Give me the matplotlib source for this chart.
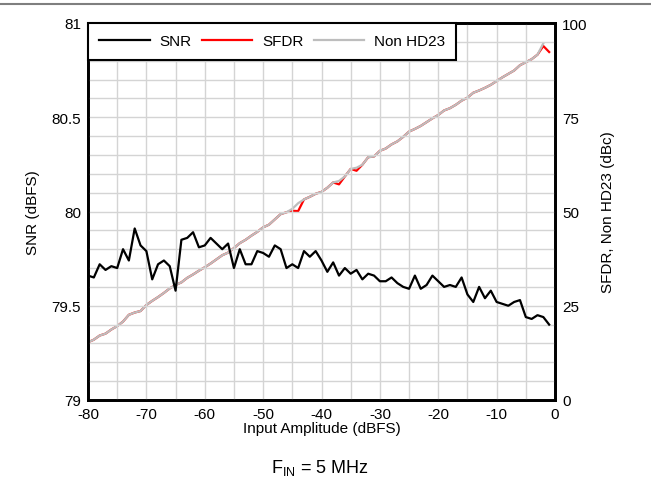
import numpy as np
import matplotlib
matplotlib.use("Agg")
from matplotlib import pyplot as plt
from matplotlib.lines import Line2D
from matplotlib.ticker import MultipleLocator

plt.rcParams['font.family'] = ['Liberation Sans', 'DejaVu Sans']
plt.rcParams['axes.unicode_minus'] = False

# Input amplitude (dBFS)
amplitude = list(range(-80, 0))

snr = [79.66, 79.65, 79.72, 79.69, 79.71, 79.70, 79.80, 79.74, 79.91, 79.82,
       79.79, 79.64, 79.72, 79.74, 79.71, 79.58, 79.85, 79.86, 79.89, 79.81,
       79.82, 79.86, 79.83, 79.80, 79.83, 79.70, 79.80, 79.72, 79.72, 79.79,
       79.78, 79.76, 79.82, 79.80, 79.70, 79.72, 79.70, 79.79, 79.76, 79.79,
       79.74, 79.68, 79.73, 79.66, 79.70, 79.67, 79.69, 79.64, 79.67, 79.66,
       79.63, 79.63, 79.65, 79.62, 79.60, 79.59, 79.66, 79.59, 79.61, 79.66,
       79.63, 79.60, 79.61, 79.60, 79.65, 79.56, 79.52, 79.60, 79.54, 79.58,
       79.52, 79.51, 79.50, 79.52, 79.53, 79.44, 79.43, 79.45, 79.44, 79.40]

non_hd23 = [15.3, 16.0, 17.1, 17.6, 18.7, 19.6, 20.8, 22.6, 23.2, 23.6,
            25.2, 26.3, 27.3, 28.4, 29.6, 30.5, 31.2, 32.4, 33.3, 34.3,
            35.2, 36.2, 37.3, 38.4, 39.1, 40.3, 41.6, 42.5, 43.6, 44.6,
            45.8, 46.5, 47.9, 49.3, 49.8, 50.7, 52.2, 53.2, 53.9, 54.7,
            55.2, 56.3, 57.7, 58.1, 59.3, 61.3, 61.6, 62.4, 64.4, 64.6,
            66.1, 66.7, 67.8, 68.6, 69.8, 71.2, 71.9, 72.7, 73.7, 74.7,
            75.6, 76.8, 77.4, 78.3, 79.4, 80.2, 81.5, 82.1, 82.8, 83.6,
            84.6, 85.6, 86.5, 87.4, 88.8, 89.6, 90.4, 91.6, 94.6, np.nan]

sfdr = [15.3, 16.0, 17.1, 17.6, 18.7, 19.6, 20.8, 22.6, 23.2, 23.6,
        25.2, 26.3, 27.3, 28.4, 29.6, 30.5, 31.2, 32.4, 33.3, 34.3,
        35.2, 36.2, 37.3, 38.4, 39.1, 40.3, 41.6, 42.5, 43.6, 44.6,
        45.8, 46.5, 47.9, 49.3, 49.8, 50.2, 50.1, 53.2, 53.9, 54.7,
        55.2, 56.3, 57.7, 57.2, 59.3, 61.3, 60.8, 62.4, 64.4, 64.6,
        66.1, 66.7, 67.8, 68.6, 69.8, 71.2, 71.9, 72.7, 73.7, 74.7,
        75.6, 76.8, 77.4, 78.3, 79.4, 80.2, 81.5, 82.1, 82.8, 83.6,
        84.6, 85.6, 86.5, 87.4, 88.8, 89.6, 90.4, 91.6, 93.9, 92.3]

fig = plt.figure(figsize=(6.51, 4.81), dpi=100)
ax = fig.add_axes([88/651, 80/481, 467/651, 377/481])
ax2 = ax.twinx()

l_snr, = ax.plot(amplitude, snr, color='black', lw=1.6, label='SNR')
l_sfdr, = ax2.plot(amplitude, sfdr, color='#ff0000', lw=1.6, label='SFDR')
l_hd, = ax2.plot(amplitude, non_hd23, color='#bdbdbd', lw=1.6, label='Non HD23')

ax.set_xlim(-80, 0)
ax.set_ylim(79, 81)
ax2.set_ylim(0, 100)
ax.xaxis.set_major_locator(MultipleLocator(10))
ax.xaxis.set_minor_locator(MultipleLocator(5))
ax.yaxis.set_major_locator(MultipleLocator(0.5))
ax.yaxis.set_minor_locator(MultipleLocator(0.1))
ax2.yaxis.set_major_locator(MultipleLocator(25))
ax.yaxis.set_major_formatter(plt.FuncFormatter(lambda v, p: f"{v:g}"))

ax.grid(which='both', color='#d4d4d4', lw=1.0)
ax.set_axisbelow(True)
ax.set_zorder(ax2.get_zorder() + 1)
ax.patch.set_visible(False)
for a in (ax, ax2):
    a.tick_params(which='both', length=0, labelsize=11, pad=5)
    for s in a.spines.values():
        s.set_linewidth(2)
        s.set_color('black')

ax.set_xlabel('Input Amplitude (dBFS)', fontsize=11, labelpad=0)
ax.set_ylabel('SNR (dBFS)', fontsize=11, labelpad=8)
ax2.set_ylabel('SFDR, Non HD23 (dBc)', fontsize=11, rotation=90, labelpad=10)

leg = ax.legend([l_snr, l_sfdr, l_hd], ['SNR', 'SFDR', 'Non HD23'], ncols=3,
                loc='upper left', bbox_to_anchor=(0, 1), borderaxespad=0,
                fontsize=11, handlelength=3.3, columnspacing=0.65,
                handletextpad=0.65, fancybox=False, framealpha=1,
                borderpad=0.75)
leg.get_frame().set_edgecolor('black')
leg.get_frame().set_linewidth(1.5)

fig.add_artist(Line2D([0, 1], [1 - 5/481, 1 - 5/481], color='#7f7f7f', lw=1.5))
fig.text(320/651, 1 - 468/481, r'F$_{\mathregular{IN}}$ = 5 MHz', fontsize=13,
         ha='center', va='center')

fig.savefig('out.png', dpi=100)
